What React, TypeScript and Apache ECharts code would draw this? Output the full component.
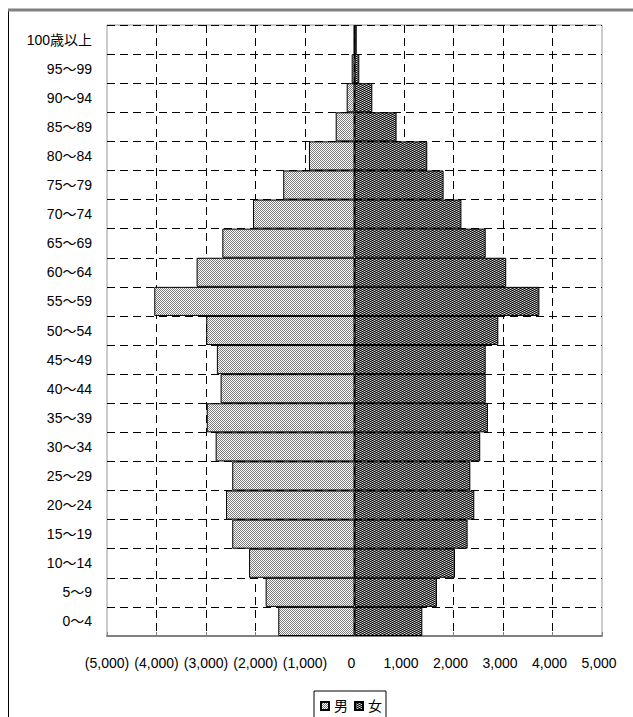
import React, { useEffect, useRef } from "react";
import * as echarts from "echarts";

const categories = [
  "0～4", "5～9", "10～14", "15～19", "20～24", "25～29", "30～34",
  "35～39", "40～44", "45～49", "50～54", "55～59", "60～64", "65～69",
  "70～74", "75～79", "80～84", "85～89", "90～94", "95～99", "100歳以上",
];
const maleValues = [
  1540, 1795, 2130, 2470, 2595, 2470, 2805, 2985, 2705, 2780, 2995, 4045,
  3190, 2670, 2050, 1440, 920, 380, 158, 57, 12,
];
const femaleValues = [
  1370, 1665, 2030, 2285, 2420, 2340, 2540, 2695, 2650, 2650, 2905, 3735,
  3065, 2650, 2160, 1800, 1470, 850, 360, 97, 45,
];
const seriesNames = ["男", "女"];
const xMin = -5000;
const xMax = 5000;
const xInterval = 1000;

const FONT = '"Liberation Sans", "Noto Sans CJK JP", sans-serif';

function makePattern(kind: "male" | "female"): HTMLCanvasElement {
  const c = document.createElement("canvas");
  c.width = 4;
  c.height = 4;
  const ctx = c.getContext("2d")!;
  for (let y = 0; y < 4; y++) {
    for (let x = 0; x < 4; x++) {
      let col: string;
      if (kind === "male") {
        col = (x + y) % 2 === 0 ? "#7a7a7a" : "#ffffff";
      } else {
        if (x % 2 === 0) col = (y + x / 2) % 2 === 0 ? "#000000" : "#d0d0d0";
        else col = "#5a5a5a";
      }
      ctx.fillStyle = col;
      ctx.fillRect(x, y, 1, 1);
    }
  }
  return c;
}

function fmt(v: number): string {
  const s = Math.abs(v).toLocaleString("en-US");
  return v < 0 ? `(${s})` : `{p|${s}}`;
}

export default function App() {
  const ref = useRef<HTMLDivElement>(null);
  useEffect(() => {
    if (!ref.current) return;
    const chart = echarts.init(ref.current, null, { renderer: "svg" });
    const maleFill: any = {
      image: makePattern("male"),
      repeat: "repeat",
      imageWidth: 4,
      imageHeight: 4,
    };
    const femaleFill: any = {
      image: makePattern("female"),
      repeat: "repeat",
      imageWidth: 4,
      imageHeight: 4,
    };
    chart.setOption({
      animation: false,
      backgroundColor: "#ffffff",
      textStyle: { fontFamily: FONT },
      graphic: [
        {
          type: "rect",
          shape: { x: 8.5, y: 10.5, width: 700, height: 800 },
          style: { fill: "none", stroke: "#000", lineWidth: 1 },
          silent: true,
        },
        {
          type: "line",
          shape: { x1: 8, y1: 10, x2: 640, y2: 10 },
          style: { stroke: "#808080", lineWidth: 3 },
          silent: true,
        },
      ],
      legend: {
        data: seriesNames,
        left: 314,
        top: 691,
        orient: "horizontal",
        borderColor: "#000",
        borderWidth: 1,
        padding: [8, 4, 8, 6],
        itemGap: 6,
        itemWidth: 8,
        itemHeight: 8,
        icon: "rect",
        textStyle: { fontFamily: FONT, fontSize: 14, color: "#000" },
      },
      grid: {
        left: 107,
        right: 31,
        top: 25,
        bottom: 81,
        show: true,
        borderColor: "#999",
        borderWidth: 1,
        containLabel: false,
      },
      xAxis: {
        type: "value",
        min: xMin,
        max: xMax,
        interval: xInterval,
        axisLine: { show: true, lineStyle: { color: "#808080", width: 2 } },
        axisTick: { show: true, inside: true, length: 4, lineStyle: { color: "#808080" } },
        axisLabel: {
          margin: 20,
          fontSize: 14,
          color: "#000",
          fontFamily: FONT,
          formatter: fmt,
          rich: { p: { fontSize: 14, fontFamily: FONT, color: "#000", padding: [0, 6, 0, 0] } },
        },
        splitLine: {
          show: true,
          showMinLine: false,
          showMaxLine: false,
          lineStyle: { color: "#000", type: [8, 5], width: 1 },
        },
      },
      yAxis: {
        type: "category",
        data: categories,
        boundaryGap: true,
        axisLine: { show: false },
        axisTick: { show: false },
        axisLabel: { margin: 15, fontSize: 14, color: "#000", fontFamily: FONT },
        splitLine: {
          show: true,
          lineStyle: { color: "#000", type: [8, 5], width: 1 },
        },
      },
      series: [
        {
          name: seriesNames[0],
          type: "bar",
          data: maleValues.map((v) => -v),
          barGap: "-100%",
          barCategoryGap: 0,
          itemStyle: { color: maleFill, borderColor: "#000", borderWidth: 1 },
        },
        {
          name: seriesNames[1],
          type: "bar",
          data: femaleValues,
          barGap: "-100%",
          barCategoryGap: 0,
          itemStyle: { color: femaleFill, borderColor: "#000", borderWidth: 1 },
        },
      ],
    });
    return () => chart.dispose();
  }, []);
  return (
    <div
      ref={ref}
      style={{ position: "absolute", left: 0, top: 0, width: 633, height: 717 }}
    />
  );
}
